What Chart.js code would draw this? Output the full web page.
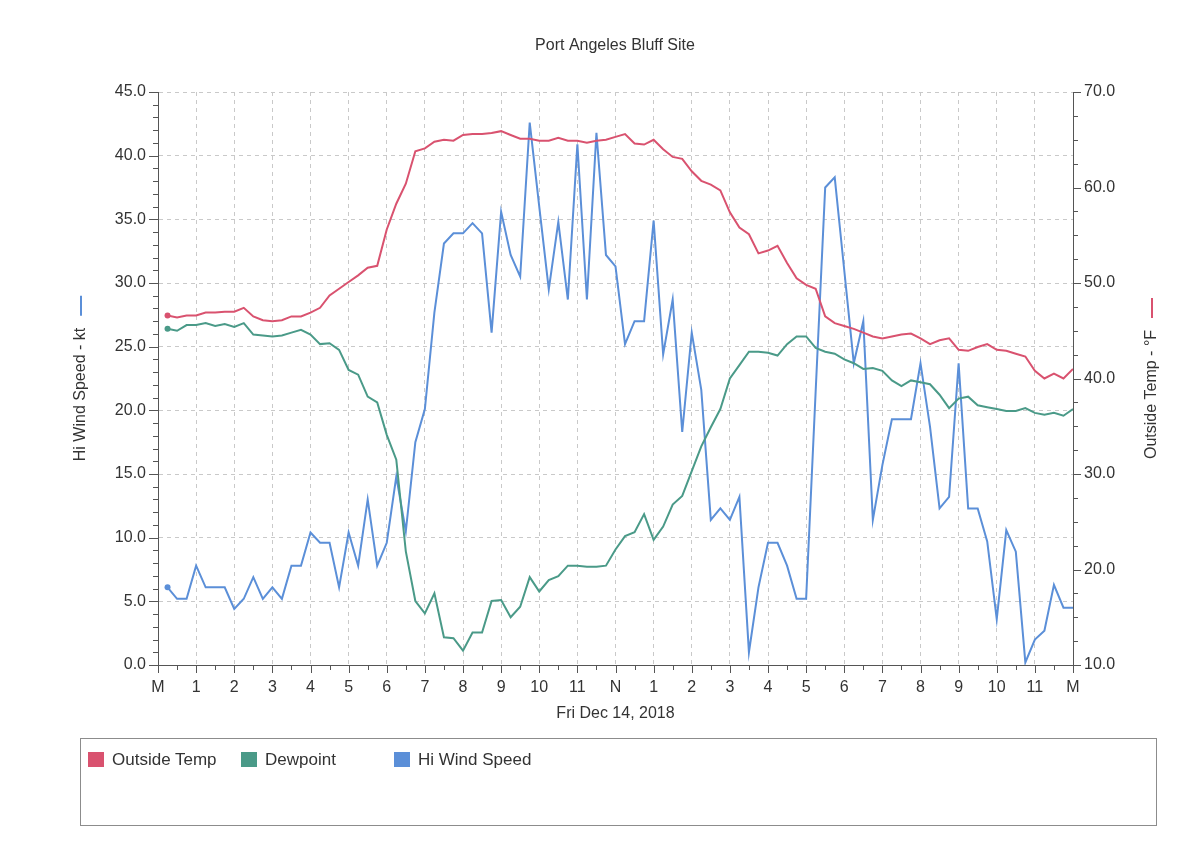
<!DOCTYPE html>
<html>
<head>
<meta charset="utf-8">
<title>Port Angeles Bluff Site</title>
<script src="https://cdn.jsdelivr.net/npm/chart.js@4/dist/chart.umd.min.js"></script>
<style>
  html, body { margin: 0; padding: 0; background: #fff; }
  #wrap { position: relative; width: 1200px; height: 854px; font-family: "Liberation Sans", Arial, sans-serif; color: #333; }
  #chart { position: absolute; left: 0; top: 0; }
  #legend { position: absolute; left: 80px; top: 738px; width: 1075px; height: 86px; border: 1px solid #8c8c8c; }
  .item { position: absolute; top: 11px; font-size: 17px; line-height: 20px; padding-left: 24px; white-space: nowrap; }
  .swatch { position: absolute; left: 0; top: 2px; width: 16px; height: 15px; }
</style>
</head>
<body>
<div id="wrap">
  <canvas id="chart" width="1200" height="854"></canvas>
  <div id="legend"></div>
</div>
<script>
// 15-minute samples, Fri Dec 14 2018 (hours after midnight)
const times = Array.from({ length: 96 }, (_, i) => (i + 1) / 4);

const hourTicks = [0,1,2,3,4,5,6,7,8,9,10,11,12,13,14,15,16,17,18,19,20,21,22,23,24];
const hourLabels = ['M','1','2','3','4','5','6','7','8','9','10','11','N','1','2','3','4','5','6','7','8','9','10','11','M'];

const seriesNames = ['Outside Temp', 'Dewpoint', 'Hi Wind Speed'];
const seriesColors = ['#d9526f', '#4a9a88', '#5b8fd8'];

// deg F
const outsideTemp = [
  46.6, 46.4, 46.6, 46.6, 46.9, 46.9, 47.0, 47.0, 47.4, 46.5, 46.1, 46.0,
  46.1, 46.5, 46.5, 46.9, 47.4, 48.7, 49.4, 50.1, 50.8, 51.6, 51.8, 55.6,
  58.3, 60.4, 63.8, 64.1, 64.8, 65.0, 64.9, 65.5, 65.6, 65.6, 65.7, 65.9,
  65.5, 65.1, 65.1, 64.9, 64.9, 65.2, 64.9, 64.9, 64.7, 64.9, 65.0, 65.3,
  65.6, 64.6, 64.5, 65.0, 64.0, 63.2, 63.0, 61.7, 60.7, 60.3, 59.7, 57.4,
  55.8, 55.1, 53.1, 53.4, 53.9, 52.1, 50.5, 49.8, 49.4, 46.5, 45.8, 45.5,
  45.2, 44.8, 44.4, 44.2, 44.4, 44.6, 44.7, 44.2, 43.6, 44.0, 44.2, 43.0,
  42.9, 43.3, 43.6, 43.0, 42.9, 42.6, 42.3, 40.8, 40.0, 40.5, 40.0, 41.0
];

// deg F
const dewpoint = [
  45.2, 45.0, 45.6, 45.6, 45.8, 45.5, 45.7, 45.4, 45.8, 44.6, 44.5, 44.4,
  44.5, 44.8, 45.1, 44.6, 43.6, 43.7, 43.0, 40.9, 40.4, 38.1, 37.5, 34.1,
  31.5, 21.9, 16.7, 15.4, 17.5, 12.9, 12.8, 11.5, 13.4, 13.4, 16.7, 16.8,
  15.0, 16.1, 19.2, 17.7, 18.9, 19.3, 20.4, 20.4, 20.3, 20.3, 20.4, 22.1,
  23.5, 23.9, 25.8, 23.1, 24.5, 26.8, 27.7, 30.3, 32.9, 34.9, 36.8, 40.0,
  41.4, 42.8, 42.8, 42.7, 42.4, 43.6, 44.4, 44.4, 43.2, 42.8, 42.6, 42.0,
  41.6, 41.0, 41.1, 40.8, 39.8, 39.2, 39.8, 39.6, 39.4, 38.3, 36.9, 37.9,
  38.1, 37.2, 37.0, 36.8, 36.6, 36.6, 36.9, 36.4, 36.2, 36.4, 36.1, 36.8
];

// knots
const hiWindSpeed = [
  6.1, 5.2, 5.2, 7.8, 6.1, 6.1, 6.1, 4.4, 5.2, 6.9, 5.2, 6.1,
  5.2, 7.8, 7.8, 10.4, 9.6, 9.6, 6.1, 10.4, 7.8, 13.0, 7.8, 9.6,
  14.8, 10.5, 17.5, 20.1, 27.7, 33.1, 33.9, 33.9, 34.7, 33.9, 26.1, 35.6,
  32.2, 30.5, 42.6, 36.0, 29.5, 34.8, 28.7, 40.9, 28.7, 41.8, 32.2, 31.3,
  25.2, 27.0, 27.0, 34.9, 24.4, 28.7, 18.3, 26.1, 21.6, 11.4, 12.3, 11.4,
  13.2, 1.0, 6.1, 9.6, 9.6, 7.8, 5.2, 5.2, 21.5, 37.5, 38.3, 31.0,
  23.7, 27.0, 11.4, 15.7, 19.3, 19.3, 19.3, 23.7, 18.7, 12.3, 13.2, 23.7,
  12.3, 12.3, 9.7, 3.6, 10.6, 8.9, 0.2, 2.0, 2.7, 6.3, 4.5, 4.5
];

const windAxis = { min: 0, max: 45, step: 5, minor: 1 };
const tempAxis = { min: 10, max: 70, step: 10, minor: 2.5 };

const FONT = '"Liberation Sans", Arial, Helvetica, sans-serif';
const TEXT = '#333';
const AXIS = '#555';
const GRID = '#c9c9c9';

Chart.defaults.font.family = FONT;
Chart.defaults.color = TEXT;

// tick marks + axis titles with series marker
const axisDecor = {
  id: 'axisDecor',
  afterDraw(chart) {
    const { ctx, chartArea: a, scales } = chart;
    ctx.save();
    ctx.strokeStyle = AXIS;
    ctx.lineWidth = 1;
    ctx.beginPath();
    for (let v = windAxis.min; v <= windAxis.max; v += windAxis.minor) {
      const y = Math.round(scales.y.getPixelForValue(v)) + 0.5;
      const len = v % windAxis.step === 0 ? 9 : 5;
      ctx.moveTo(a.left - len, y);
      ctx.lineTo(a.left, y);
    }
    for (let v = tempAxis.min; v <= tempAxis.max; v += tempAxis.minor) {
      const y = Math.round(scales.y1.getPixelForValue(v)) + 0.5;
      const len = v % tempAxis.step === 0 ? 8 : 5;
      ctx.moveTo(a.right, y);
      ctx.lineTo(a.right + len, y);
    }
    for (let h = 0; h <= 24; h += 0.5) {
      const x = Math.round(scales.x.getPixelForValue(h)) + 0.5;
      const len = h % 1 === 0 ? 8 : 5;
      ctx.moveTo(x, a.bottom);
      ctx.lineTo(x, a.bottom + len);
    }
    ctx.stroke();

    const drawTitle = (x, text, color) => {
      ctx.save();
      ctx.font = '16px ' + FONT;
      const w = ctx.measureText(text).width;
      const total = w + 12 + 20;
      const cy = (a.top + a.bottom) / 2;
      ctx.translate(x, cy + total / 2);
      ctx.rotate(-Math.PI / 2);
      ctx.fillStyle = TEXT;
      ctx.textAlign = 'left';
      ctx.textBaseline = 'middle';
      ctx.fillText(text, 0, 0);
      ctx.strokeStyle = color;
      ctx.lineWidth = 2;
      ctx.beginPath();
      ctx.moveTo(w + 12, 0);
      ctx.lineTo(w + 32, 0);
      ctx.stroke();
      ctx.restore();
    };
    drawTitle(81, 'Hi Wind Speed - kt', seriesColors[2]);
    drawTitle(1152, 'Outside Temp - °F', seriesColors[0]);
    ctx.restore();
  }
};

const firstPoint = (ctx) => (ctx.dataIndex === 0 ? 3 : 0);

const makeSet = (i, data, axis) => ({
  label: seriesNames[i],
  data: data,
  yAxisID: axis,
  borderColor: seriesColors[i],
  backgroundColor: seriesColors[i],
  borderWidth: 2,
  pointRadius: firstPoint,
  pointBorderWidth: 0,
  tension: 0,
  fill: false
});

new Chart(document.getElementById('chart').getContext('2d'), {
  type: 'line',
  data: {
    labels: times,
    datasets: [
      makeSet(0, outsideTemp, 'y1'),
      makeSet(1, dewpoint, 'y1'),
      makeSet(2, hiWindSpeed, 'y')
    ]
  },
  options: {
    responsive: false,
    animation: false,
    layout: { padding: { left: 30, right: 0, top: 0, bottom: 127 } },
    plugins: {
      legend: { display: false },
      tooltip: { enabled: false },
      title: {
        display: true,
        text: 'Port Angeles Bluff Site',
        color: TEXT,
        font: { size: 16, weight: 'normal' },
        padding: { top: 36, bottom: 36.8 }
      }
    },
    scales: {
      x: {
        type: 'linear',
        min: 0,
        max: 24,
        afterBuildTicks: (scale) => { scale.ticks = hourTicks.map(v => ({ value: v })); },
        afterFit: (scale) => { scale.height = 62; },
        ticks: {
          autoSkip: false,
          maxRotation: 0,
          padding: 13,
          font: { size: 16 },
          callback: (v, i) => hourLabels[i]
        },
        grid: { color: GRID, drawTicks: false },
        border: { color: AXIS, dash: [4, 4] },
        title: {
          display: true,
          text: 'Fri Dec 14, 2018',
          font: { size: 16 },
          padding: { top: 0, bottom: 4 }
        }
      },
      y: {
        position: 'left',
        min: windAxis.min,
        max: windAxis.max,
        afterFit: (scale) => { scale.width = 128; },
        ticks: {
          stepSize: windAxis.step,
          padding: 12,
          font: { size: 16 },
          callback: (v) => Number(v).toFixed(1)
        },
        grid: { color: GRID, drawTicks: false },
        border: { color: AXIS, dash: [4, 4] }
      },
      y1: {
        position: 'right',
        min: tempAxis.min,
        max: tempAxis.max,
        afterFit: (scale) => { scale.width = 127; },
        ticks: {
          stepSize: tempAxis.step,
          padding: 11,
          font: { size: 16 },
          callback: (v) => Number(v).toFixed(1)
        },
        grid: { drawOnChartArea: false, drawTicks: false },
        border: { color: AXIS }
      }
    }
  },
  plugins: [axisDecor]
});

// boxed legend, fixed columns like the original
const legend = document.getElementById('legend');
seriesNames.forEach((name, i) => {
  const item = document.createElement('div');
  item.className = 'item';
  item.style.left = (7 + 153 * i) + 'px';
  const sw = document.createElement('span');
  sw.className = 'swatch';
  sw.style.background = seriesColors[i];
  item.appendChild(sw);
  item.appendChild(document.createTextNode(name));
  legend.appendChild(item);
});
</script>
</body>
</html>
